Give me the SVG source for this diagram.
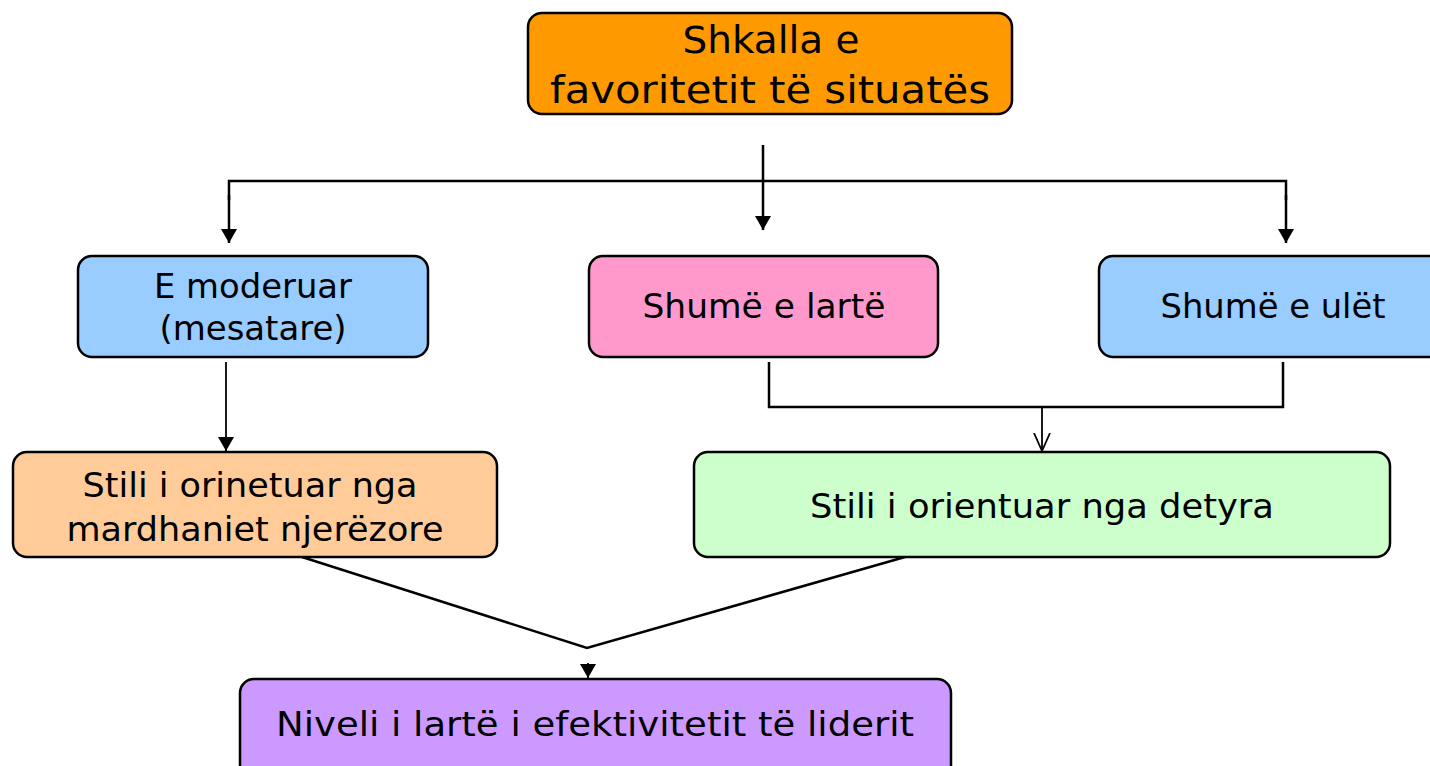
<svg xmlns="http://www.w3.org/2000/svg" width="1430" height="766" viewBox="0 0 1430 766">
  <defs>
    <style>
      .box { stroke: #000; stroke-width: 2.5; }
      .lbl { font-family: "DejaVu Sans", "Noto Sans", sans-serif; font-size: 33px; fill: #000; text-anchor: middle; }
      .big { font-size: 37px; }
      .wire { fill: none; stroke: #000; stroke-width: 2.5; }
      .thin { fill: none; stroke: #000; stroke-width: 1.8; }
    </style>
    <!-- filled arrowhead, drawn along +x and rotated by the line direction -->
    <marker id="tri" markerUnits="userSpaceOnUse" markerWidth="15" markerHeight="16" refX="14" refY="8" orient="auto" viewBox="0 0 15 16">
      <path d="M0,0 L14,8 L0,16 Z" fill="#000"/>
    </marker>
    <!-- open V arrowhead -->
    <marker id="vee" markerUnits="userSpaceOnUse" markerWidth="20" markerHeight="18" refX="18" refY="9" orient="auto" viewBox="0 0 20 18">
      <path d="M0,1 L18,9 L0,17" fill="none" stroke="#000" stroke-width="1.8"/>
    </marker>
  </defs>
  <rect width="1430" height="766" fill="#fff"/>

  <g id="connectors">
    <!-- top split -->
    <line class="wire" x1="763" y1="145" x2="763" y2="230" marker-end="url(#tri)"/>
    <polyline class="wire" points="229,200 229,181 1286,181 1286,200"/>
    <line class="wire" x1="229" y1="195" x2="229" y2="243" marker-end="url(#tri)"/>
    <line class="wire" x1="1286" y1="195" x2="1286" y2="243" marker-end="url(#tri)"/>
    <!-- left branch -->
    <line class="thin" x1="226" y1="362" x2="226" y2="451" marker-end="url(#tri)"/>
    <!-- right merge -->
    <polyline class="wire" points="769,362 769,407 1283,407 1283,362"/>
    <line class="thin" x1="1042" y1="407" x2="1042" y2="451" marker-end="url(#vee)"/>
    <!-- bottom merge -->
    <polyline class="wire" points="302,557 587,648 905,557"/>
    <line class="thin" x1="588" y1="663" x2="588" y2="678" marker-end="url(#tri)"/>
  </g>

  <g id="node-scale">
    <rect class="box" x="528" y="13" width="484" height="101" rx="14" fill="#FF9900"/>
    <text class="lbl big" x="771" y="53" textLength="177" lengthAdjust="spacingAndGlyphs">Shkalla e</text>
    <text class="lbl big" x="770" y="103" textLength="440" lengthAdjust="spacingAndGlyphs">favoritetit të situatës</text>
  </g>

  <g id="node-moderate">
    <rect class="box" x="78" y="256" width="350" height="101" rx="14" fill="#99CCFF"/>
    <text class="lbl" x="253" y="298" textLength="198" lengthAdjust="spacingAndGlyphs">E moderuar</text>
    <text class="lbl" x="253" y="340" textLength="187" lengthAdjust="spacingAndGlyphs">(mesatare)</text>
  </g>

  <g id="node-high">
    <rect class="box" x="589" y="256" width="349" height="101" rx="14" fill="#FF99CC"/>
    <text class="lbl" x="764" y="318" textLength="243" lengthAdjust="spacingAndGlyphs">Shumë e lartë</text>
  </g>

  <g id="node-low">
    <rect class="box" x="1099" y="256" width="345" height="101" rx="14" fill="#99CCFF"/>
    <text class="lbl" x="1273" y="318" textLength="225" lengthAdjust="spacingAndGlyphs">Shumë e ulët</text>
  </g>

  <g id="node-relations">
    <rect class="box" x="13" y="452" width="484" height="105" rx="14" fill="#FFCC99"/>
    <text class="lbl" x="250" y="497" textLength="335" lengthAdjust="spacingAndGlyphs">Stili i orinetuar nga</text>
    <text class="lbl" x="255" y="541" textLength="377" lengthAdjust="spacingAndGlyphs">mardhaniet njerëzore</text>
  </g>

  <g id="node-task">
    <rect class="box" x="694" y="452" width="696" height="105" rx="14" fill="#CCFFCC"/>
    <text class="lbl" x="1042" y="518" textLength="464" lengthAdjust="spacingAndGlyphs">Stili i orientuar nga detyra</text>
  </g>

  <g id="node-effectiveness">
    <rect class="box" x="240" y="679" width="711" height="100" rx="14" fill="#CC99FF"/>
    <text class="lbl" x="595" y="736" textLength="638" lengthAdjust="spacingAndGlyphs">Niveli i lartë i efektivitetit të liderit</text>
  </g>
</svg>
